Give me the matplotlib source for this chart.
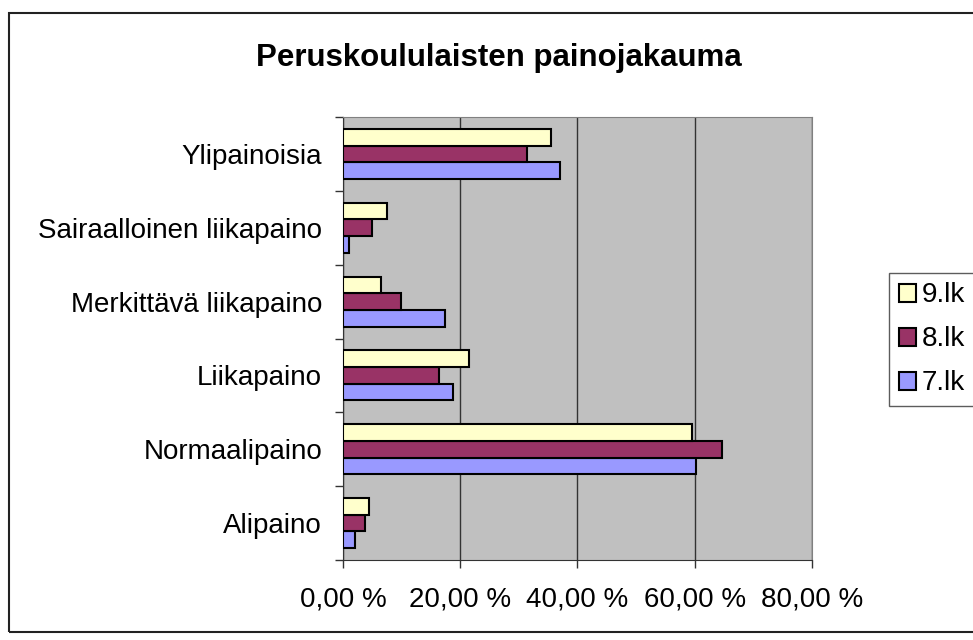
import numpy as np
import matplotlib.pyplot as plt
from matplotlib.patches import Rectangle
from matplotlib.ticker import FuncFormatter

categories = ["Alipaino", "Normaalipaino", "Liikapaino", "Merkittävä liikapaino",
              "Sairaalloinen liikapaino", "Ylipainoisia"]
lk7 = [2.0, 60.3, 18.7, 17.4, 1.0, 37.1]
lk8 = [3.7, 64.7, 16.3, 9.9, 5.0, 31.4]
lk9 = [4.4, 59.5, 21.5, 6.5, 7.5, 35.4]
series = [("7.lk", lk7, "#9999FF"), ("8.lk", lk8, "#993366"), ("9.lk", lk9, "#FFFFCC")]

plt.rcParams['font.family'] = ['Liberation Sans', 'DejaVu Sans']

fig = plt.figure(figsize=(9.73, 6.40), dpi=100)
ax = fig.add_axes([0.3525, 0.125, 0.482, 0.692])
ax.set_facecolor("#C0C0C0")

y = np.arange(len(categories))
h = 0.226
for i, (name, vals, col) in enumerate(series):
    ax.barh(y + (i - 1) * h, vals, height=h, color=col, edgecolor="black",
            linewidth=1.5, label=name, zorder=3)

ax.set_xlim(0, 80)
ax.set_ylim(-0.5, len(categories) - 0.5)
ax.set_xticks([0, 20, 40, 60, 80])
ax.xaxis.set_major_formatter(FuncFormatter(lambda v, p: f"{v:.2f} %".replace(".", ",")))
ax.grid(axis="x", color="#333333", linewidth=1, zorder=1)

ax.set_yticks(y)
ax.set_yticklabels(categories)
ax.set_yticks(np.arange(-0.5, len(categories), 1), minor=True)
ax.tick_params(axis="y", which="major", length=0, pad=15, labelsize=20)
ax.tick_params(axis="y", which="minor", length=6, width=1, color="#333333")
ax.tick_params(axis="x", length=6, width=1, color="#333333", pad=13, labelsize=20)

for s in ["top", "right"]:
    ax.spines[s].set_color("#808080")
for s in ["left", "bottom"]:
    ax.spines[s].set_color("#333333")

fig.text(0.513, 0.909, "Peruskoululaisten painojakauma", ha="center", va="center",
         fontsize=22.5, fontweight="bold")

handles, labels = ax.get_legend_handles_labels()
leg = fig.legend(handles[::-1], labels[::-1], loc="upper left",
                 bbox_to_anchor=(0.9137, 0.574), frameon=True, fancybox=False,
                 edgecolor="#333333", fontsize=20, handlelength=0.63, handleheight=0.63,
                 handletextpad=0.2, borderpad=0.35, labelspacing=0.65, borderaxespad=0)
leg.get_frame().set_linewidth(1)

fig.patches.append(Rectangle((9 / 973, 8 / 640), 1.0, 619.5 / 640, transform=fig.transFigure,
                             fill=False, edgecolor="#222222", linewidth=1.5))

fig.savefig("out.png", dpi=100)
